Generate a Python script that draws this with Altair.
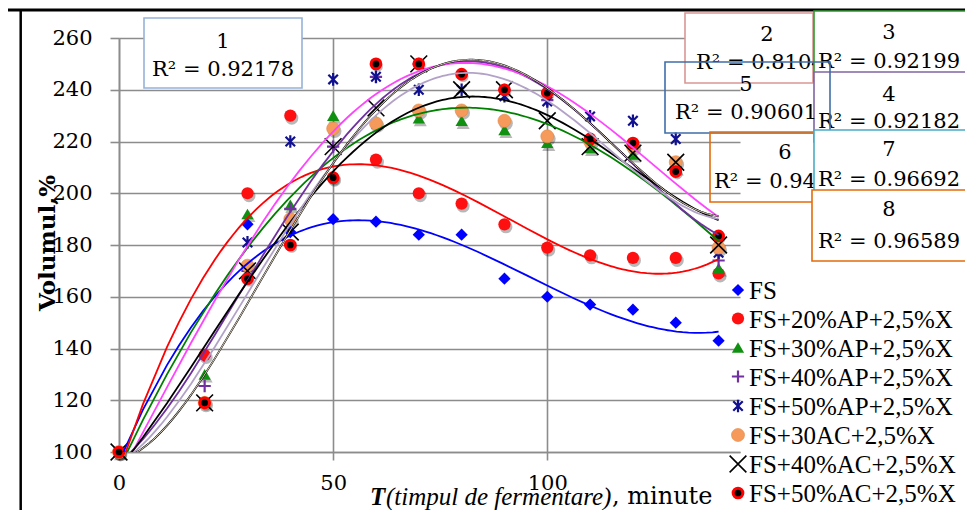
import altair as alt
import pandas as pd

# ---------------- data ----------------
x_vals = [0, 20, 30, 40, 50, 60, 70, 80, 90, 100, 110, 120, 130, 140]
series_names = ["FS", "FS+20%AP+2,5%X", "FS+30%AP+2,5%X", "FS+40%AP+2,5%X",
                "FS+50%AP+2,5%X", "FS+30AC+2,5%X", "FS+40%AC+2,5%X", "FS+50%AC+2,5%X"]
fs    = [100, 137, 188, 185, 190, 189, 184, 184, 167, 160, 157, 155, 150, 143]
ap20  = [100, 137.5, 200, 230, 206, 213, 200, 196, 188, 179, 176, 175, 175, 169]
ap30  = [100, 130, 192, 195.5, 230, 228, 229, 228, 224.5, 219.5, 217.5, 215, 210, 171]
ap40  = [100, 125.5, 170, 194, 218, 245, 250, 246, 240, 236, 221, 219, 210, 174]
ap50  = [100, 119, 181, 220, 244, 245, 240, 240, 237.5, 235.5, 229.7, 228, 221, 177]
ac30  = [100, 119, 172, 190, 225, 227, 232, 232, 228, 222, 220, 218, 212, 179]
ac40  = [100, 119, 170, 185, 218, 233, 250, 240, 240, 228, 218, 215.5, 212, 180]
ac50  = [100, 119, 167, 180, 206, 250, 250, 246, 240, 238.7, 221, 219.4, 208.4, 183.5]
all_vals = [fs, ap20, ap30, ap40, ap50, ac30, ac40, ac50]

box_labels = ["1", "2", "3", "4", "5", "6", "7", "8"]
r2_texts = ["R² = 0.92178", "R² = 0.81047", "R² = 0.92199", "R² = 0.92182",
            "R² = 0.90601", "R² = 0.94335", "R² = 0.96692", "R² = 0.96589"]

y_ticks = [100, 120, 140, 160, 180, 200, 220, 240, 260]
x_ticks = [0, 50, 100]

rows = []
for name, vals in zip(series_names, all_vals):
    for t, v in zip(x_vals, vals):
        rows.append({"series": name, "t": t, "v": v})
df = pd.DataFrame(rows)

# ---------------- layout helpers ----------------
OX, OY = 119, 38          # absolute position of plot origin
W, H = 621, 414

def px(ax):
    return ax - OX

def py(ay):
    return ay - OY

one = pd.DataFrame({"a": [0]})

X = alt.X("t:Q", scale=alt.Scale(domain=[0, 145], nice=False, zero=False),
          axis=alt.Axis(values=x_ticks, title=None, tickSize=8, labelPadding=12, labelFlush=False))
Y = alt.Y("v:Q", scale=alt.Scale(domain=[100, 260], nice=False, zero=False),
          axis=alt.Axis(values=y_ticks, title=None, tickSize=9, labelPadding=18, labelFlush=False))

line_colors = ["#0000FF", "#FF0000", "#008000", "#7030A0",
               "#FF44FF", "#000000", "#B3A2C7", "#000000"]

PLUS = "M-1,0L1,0M0,-1L0,1"
STAR = "M-0.75,-0.75L0.75,0.75M-0.75,0.75L0.75,-0.75M0,-1L0,1"
XSH = "M-1,-1L1,1M-1,1L1,-1"

marks = [
    dict(kind="point", shape="diamond", filled=True, color="#0000FF", size=150, opacity=1),
    dict(kind="circle", color="#FF1010", size=150, opacity=1, shadow=True),
    dict(kind="point", shape="triangle-up", filled=True, color="#109010", size=150, opacity=1, shadow=True),
    dict(kind="point", shape=PLUS, filled=False, color="#7030A0", size=150, strokeWidth=2.2, opacity=1),
    dict(kind="point", shape=STAR, filled=False, color="#101090", size=160, strokeWidth=2.2, opacity=1),
    dict(kind="circle", color="#F59A5A", size=170, opacity=1, stroke="#E08A4A", strokeWidth=0.6, shadow=True),
    dict(kind="point", shape=XSH, filled=False, color="#000000", size=280, strokeWidth=1.6, opacity=1),
    dict(kind="circle", color="#000000", size=95, opacity=1, stroke="#FF0000", strokeWidth=3, shadow=True),
]

def make_mark(chart, m):
    props = {k: v for k, v in m.items() if k not in ("kind", "shadow")}
    if m["kind"] == "circle":
        return chart.mark_circle(**props)
    return chart.mark_point(**props)

def shadow_mark(chart, m):
    shape = m.get("shape", "circle")
    if shape in (PLUS, STAR, XSH):
        shape = "circle"
    return chart.mark_point(shape=shape, filled=True, color="#000000", opacity=0.28,
                            size=m["size"] + 20, xOffset=1.5, yOffset=2.5)

layers = []

# frame lines
layers.append(alt.Chart(one).mark_rule(color="black", strokeWidth=3).encode(
    x=alt.value(px(7)), x2=alt.value(px(980)), y=alt.value(py(10))))
layers.append(alt.Chart(one).mark_rule(color="black", strokeWidth=2.5).encode(
    x=alt.value(px(20.7)), y=alt.value(py(10)), y2=alt.value(py(530))))

# shadows
for name, m in zip(series_names, marks):
    if m.get("shadow"):
        layers.append(shadow_mark(alt.Chart(df).transform_filter(alt.datum.series == name), m)
                      .encode(x=X, y=Y))

# points
for name, m in zip(series_names, marks):
    layers.append(make_mark(alt.Chart(df).transform_filter(alt.datum.series == name), m)
                  .encode(x=X, y=Y))

# polynomial trend lines
reg = alt.Chart(df).transform_regression(
    "t", "v", groupby=["series"], method="poly", order=4, extent=[0, 140])
layers.append(reg.mark_line(clip=True, strokeWidth=1.8).encode(
    x=X, y=Y,
    color=alt.Color("series:N", scale=alt.Scale(domain=series_names, range=line_colors), legend=None),
    size=alt.Size("series:N", scale=alt.Scale(domain=series_names,
                                              range=[1.8, 1.8, 1.8, 1.8, 1.8, 1.8, 1.8, 3.6]), legend=None)))
layers.append(alt.Chart(df).transform_filter(alt.datum.series == series_names[7]).transform_regression(
    "t", "v", method="poly", order=4, extent=[0, 140]).mark_line(
    clip=True, strokeWidth=0.9, color="#F3E7CF").encode(x=X, y=Y))

# R² boxes: (x1, y1, x2, y2, stroke, filled, cx, y_label, y_r2)
boxes = [
    (144, 18, 302, 88, "#95B3D7", True, 223, 42, 70),
    (685, 13, 813, 83, "#D99694", True, 767, 35, 63),
    (814, 11, 985, 81, "#2E9A2E", True, 889, 33, 62),
    (814, 72, 985, 142, "#8064A2", True, 889, 95, 122),
    (665, 62, 830, 133, "#3F6FA8", False, 746, 85, 113),
    (710, 132, 876, 202, "#E46C0A", False, 785, 153, 182),
    (814, 130, 985, 200, "#4BACC6", True, 889, 150, 180),
    (812, 190, 985, 261, "#E46C0A", True, 889, 210, 242),
]
for (x1, y1, x2, y2, stroke, filled, cx, yl, yr), lab, r2 in zip(boxes, box_labels, r2_texts):
    layers.append(alt.Chart(one).mark_rect(fill="white", fillOpacity=1 if filled else 0,
                                           stroke=stroke, strokeWidth=1.6).encode(
        x=alt.value(px(x1)), x2=alt.value(px(x2)), y=alt.value(py(y1)), y2=alt.value(py(y2))))
    for txt, ty in ((lab, yl), (r2, yr)):
        layers.append(alt.Chart(one).mark_text(font="DejaVu Serif", fontSize=21, align="center",
                                               baseline="middle", color="black").encode(
            x=alt.value(px(cx)), y=alt.value(py(ty)), text=alt.value(txt)))

# manual legend
legend_y = [290, 318.5, 347.5, 376.5, 406, 435, 464, 493]
for name, m, ly in zip(series_names, marks, legend_y):
    lm = dict(m)
    lm.pop("shadow", None)
    layers.append(make_mark(alt.Chart(one), lm).encode(x=alt.value(px(738)), y=alt.value(py(ly))))
    layers.append(alt.Chart(one).mark_text(font="Liberation Serif", fontSize=25, align="left",
                                           baseline="middle", color="black").encode(
        x=alt.value(px(749)), y=alt.value(py(ly + 1)), text=alt.value(name)))

# axis titles
TY = 497
layers.append(alt.Chart(one).mark_text(font="DejaVu Serif", fontSize=23, fontWeight="bold",
                                       angle=270, align="center", baseline="middle",
                                       color="black").encode(
    x=alt.value(px(48)), y=alt.value(py(243)), text=alt.value("Volumul,%")))
layers.append(alt.Chart(one).mark_text(font="Liberation Serif", fontSize=25, fontWeight="bold",
                                       fontStyle="italic", align="left", baseline="middle",
                                       color="black").encode(
    x=alt.value(px(370)), y=alt.value(py(TY)), text=alt.value("T")))
layers.append(alt.Chart(one).mark_text(font="Liberation Serif", fontSize=25, fontStyle="italic",
                                       align="left", baseline="middle", color="black").encode(
    x=alt.value(px(386)), y=alt.value(py(TY)), text=alt.value("(timpul de fermentare)")))
layers.append(alt.Chart(one).mark_text(font="DejaVu Serif", fontSize=24, align="left",
                                       baseline="middle", color="black").encode(
    x=alt.value(px(612)), y=alt.value(py(TY)), text=alt.value(", minute")))

chart = alt.layer(*layers).properties(
    width=W, height=H,
    autosize=alt.AutoSizeParams(type="none"),
    padding={"left": 111, "top": 30, "right": 225, "bottom": 58},
).configure_view(stroke=None).configure_axis(
    grid=True, gridColor="#8c8c8c", gridWidth=1.6,
    domainColor="#8c8c8c", domainWidth=1.6,
    tickColor="#8c8c8c", tickWidth=1.6,
    labelFont="DejaVu Serif", labelFontSize=21, labelColor="black",
)

chart.save("out.html", embed_options={"renderer": "svg", "actions": False})
